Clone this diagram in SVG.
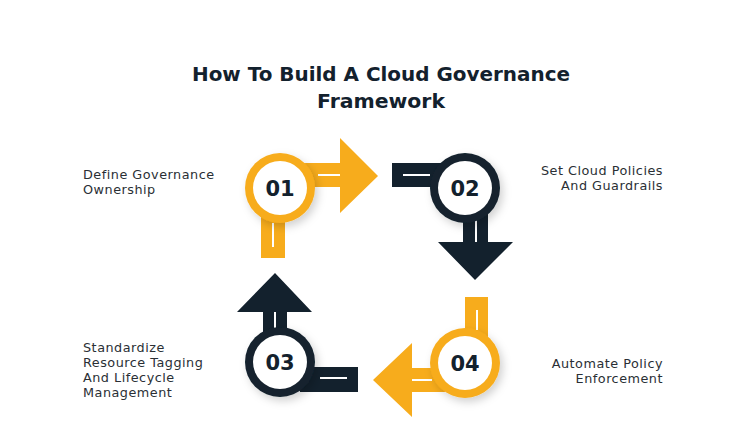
<svg xmlns="http://www.w3.org/2000/svg" width="754" height="446" viewBox="0 0 754 446">
<defs>
<style>
.y{fill:#F7AC1C}.n{fill:#13212D}.w{fill:#fff}
.wl{stroke:#fff;stroke-width:2;fill:none}
.num{font-family:"DejaVu Sans",sans-serif;font-weight:700;font-size:21px;fill:#13212D;text-anchor:middle}
.lbl{font-family:"DejaVu Sans",sans-serif;font-size:12.8px;letter-spacing:0.5px;fill:#2a2f35}
.t{font-family:"DejaVu Sans",sans-serif;font-weight:700;font-size:19px;fill:#13212D;text-anchor:middle}
</style>
<filter id="sh" x="-30%" y="-30%" width="160%" height="160%"><feDropShadow dx="3" dy="4" stdDeviation="4" flood-color="#000" flood-opacity="0.18"/></filter>
</defs>
<rect width="754" height="446" fill="#fff"/>
<text class="t" x="381" y="81" textLength="378" lengthAdjust="spacingAndGlyphs">How To Build A Cloud Governance</text>
<text class="t" x="381" y="108" textLength="128" lengthAdjust="spacingAndGlyphs">Framework</text>
<g id="connectors">
<path class="y" d="M285 163H340V138L378 176L340 213V187H285Z"/>
<line class="wl" x1="318" y1="175" x2="340" y2="175"/>
<rect class="y" x="261" y="210" width="24" height="48"/>
<line class="wl" x1="273" y1="223" x2="273" y2="247"/>
<rect class="n" x="392" y="163" width="50" height="24"/>
<line class="wl" x1="403" y1="175" x2="430" y2="175"/>
<path class="n" d="M463 210V242H438L475 280L513 242H488V210Z"/>
<line class="wl" x1="476" y1="220" x2="476" y2="242"/>
<rect class="y" x="465" y="297" width="23" height="50"/>
<line class="wl" x1="477" y1="310" x2="477" y2="330"/>
<path class="y" d="M445 368H412V343L373 380L412 417V392H445Z"/>
<line class="wl" x1="412" y1="380" x2="432" y2="380"/>
<path class="n" d="M263 340V312H237L275 273L312 312H287V340Z"/>
<line class="wl" x1="275" y1="312" x2="275" y2="330"/>
<rect class="n" x="300" y="367" width="58" height="25"/>
<line class="wl" x1="320" y1="378" x2="347" y2="378"/>
</g>
<g id="n1"><circle class="y" cx="280" cy="188" r="35" filter="url(#sh)"/><circle class="w" cx="280" cy="188" r="27"/><text class="num" x="280" y="196">01</text>
<text class="lbl" x="83" y="179">Define Governance</text><text class="lbl" x="83" y="194">Ownership</text></g>
<g id="n2"><circle class="n" cx="465" cy="188" r="35" filter="url(#sh)"/><circle class="w" cx="465" cy="188" r="27"/><text class="num" x="465" y="196">02</text>
<text class="lbl" x="663" y="175" text-anchor="end">Set Cloud Policies</text><text class="lbl" x="663" y="190" text-anchor="end">And Guardrails</text></g>
<g id="n3"><circle class="n" cx="280" cy="362" r="35" filter="url(#sh)"/><circle class="w" cx="280" cy="362" r="27"/><text class="num" x="280" y="370">03</text>
<text class="lbl" x="83" y="352">Standardize</text><text class="lbl" x="83" y="367">Resource Tagging</text><text class="lbl" x="83" y="382">And Lifecycle</text><text class="lbl" x="83" y="397">Management</text></g>
<g id="n4"><circle class="y" cx="465" cy="363" r="35" filter="url(#sh)"/><circle class="w" cx="465" cy="363" r="27"/><text class="num" x="465" y="371">04</text>
<text class="lbl" x="663" y="368" text-anchor="end">Automate Policy</text><text class="lbl" x="663" y="383" text-anchor="end">Enforcement</text></g>
</svg>
